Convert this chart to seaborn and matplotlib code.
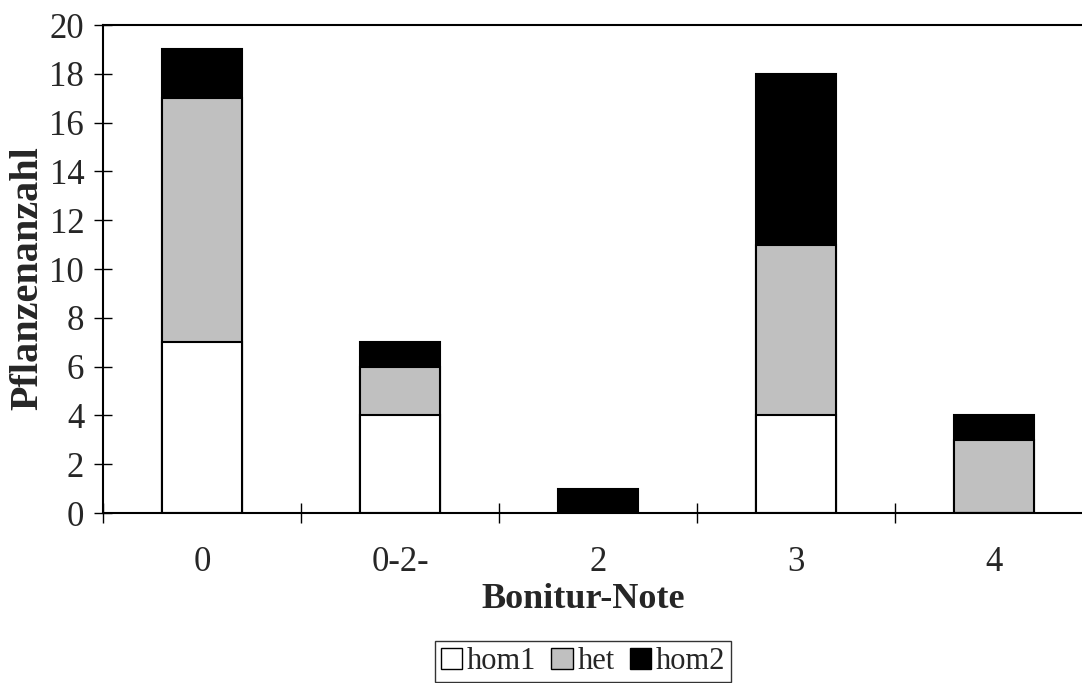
import pandas as pd
import numpy as np
import seaborn as sns
import matplotlib.pyplot as plt
from matplotlib.patches import Patch

# values
categories = ["0", "0-2-", "2", "3", "4"]
hom1 = [7, 4, 0, 4, 0]
het = [10, 2, 0, 7, 3]
hom2 = [2, 1, 1, 7, 1]

df = pd.DataFrame({"note": categories, "hom1": hom1, "het": het, "hom2": hom2})
# cumulative heights, drawn back to front so the bars look stacked
df["top_het"] = df["hom1"] + df["het"]
df["top_hom2"] = df["top_het"] + df["hom2"]

sns.set_theme(style="white")
plt.rcParams["font.family"] = ["Liberation Serif", "DejaVu Serif"]

fig = plt.figure(figsize=(10.82, 6.83), dpi=100)
# right edge of the frame runs past the image border, as in the original
ax = fig.add_axes([103 / 1082, 1 - 513 / 683, 990 / 1082, 488 / 683])

edge = dict(edgecolor="black", linewidth=1.5, width=0.4)
sns.barplot(data=df, x="note", y="top_hom2", color="black", saturation=1, ax=ax, **edge)
sns.barplot(data=df, x="note", y="top_het", color="#c0c0c0", saturation=1, ax=ax, **edge)
sns.barplot(data=df, x="note", y="hom1", color="white", saturation=1, ax=ax, **edge)

ax.set_xlim(-0.5, len(categories) - 0.5)
ax.set_ylim(0, 20)
ax.set_yticks(np.arange(0, 21, 2))
ax.set_xlabel("")
ax.set_ylabel("")

ax.spines["right"].set_visible(False)
for side in ["left", "bottom", "top"]:
    ax.spines[side].set_color("black")
    ax.spines[side].set_linewidth(1.5)

ax.tick_params(axis="y", direction="inout", length=13, width=1, color="black",
               labelsize=25, pad=7, left=True)
ax.tick_params(axis="x", which="major", length=0, labelsize=25, pad=24)
ax.set_xticks(np.arange(-0.5, len(categories), 1), minor=True)
ax.tick_params(axis="x", which="minor", direction="inout", length=14, width=1,
               color="black", bottom=True)

fig.text(28 / 1082, 1 - 278 / 683, "Pflanzenanzahl", rotation=90, ha="center",
         va="center", fontsize=29, fontweight="bold")
fig.text(583 / 1082, 1 - 600 / 683, "Bonitur-Note", ha="center", va="center",
         fontsize=26, fontweight="bold")

handles = [Patch(facecolor="white", edgecolor="black", label="hom1"),
           Patch(facecolor="#c0c0c0", edgecolor="black", label="het"),
           Patch(facecolor="black", edgecolor="black", label="hom2")]
leg = fig.legend(handles=handles, loc="upper center", ncol=3,
                 bbox_to_anchor=(583 / 1082, 1 - 641 / 683), fontsize=22,
                 frameon=True, fancybox=False, handlelength=0.7, handleheight=0.7,
                 handletextpad=0.15, columnspacing=0.5, borderpad=0.2,
                 borderaxespad=0)
leg.get_frame().set_edgecolor("black")
leg.get_frame().set_linewidth(1)

plt.savefig("out.png", dpi=100)
